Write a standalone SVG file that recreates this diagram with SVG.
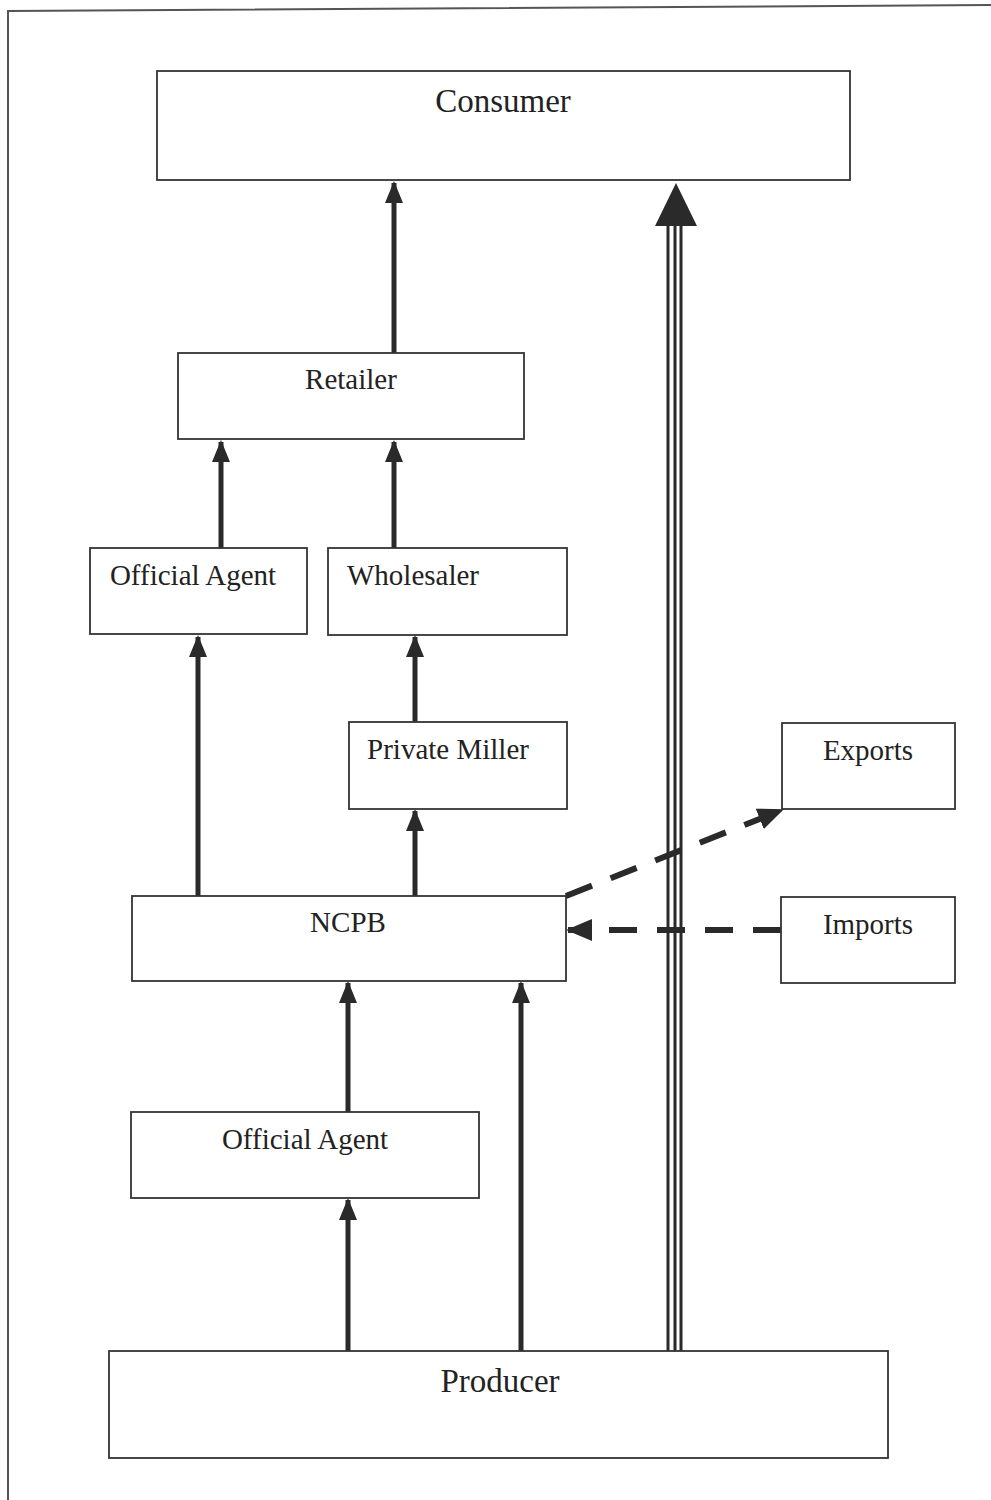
<svg xmlns="http://www.w3.org/2000/svg" width="991" height="1500" viewBox="0 0 991 1500">
<style>
.box{fill:#fff;stroke:#333;stroke-width:1.8}
.t{font-family:"Liberation Serif","Times New Roman",serif;font-size:29px;fill:#222;text-anchor:middle}
.tb{font-size:33px}
.a{stroke:#2a2a2a;stroke-width:5;fill:none;marker-end:url(#ah)}
.d{stroke:#2a2a2a;stroke-width:6;fill:none;stroke-dasharray:28 20;marker-end:url(#dh)}
.tr{stroke:#2a2a2a;stroke-width:3;fill:none}
</style>
<defs>
<marker id="ah" markerUnits="userSpaceOnUse" viewBox="0 0 22 18" refX="20" refY="9" markerWidth="22" markerHeight="18" orient="auto"><path d="M0,0 L22,9 L0,18 Z" fill="#2a2a2a"/></marker>
<marker id="dh" markerUnits="userSpaceOnUse" viewBox="0 0 26 22" refX="24" refY="11" markerWidth="26" markerHeight="22" orient="auto"><path d="M0,0 L26,11 L0,22 Z" fill="#2a2a2a"/></marker>
</defs>
<rect width="991" height="1500" fill="#fff"/>
<path d="M8,1500 L8,11 L991,5" fill="none" stroke="#555" stroke-width="2"/>
<g id="connectors">
<line class="a" x1="394" y1="353" x2="394" y2="183"/>
<line class="a" x1="221" y1="548" x2="221" y2="442"/>
<line class="a" x1="394" y1="548" x2="394" y2="442"/>
<line class="a" x1="198" y1="896" x2="198" y2="637"/>
<line class="a" x1="415" y1="722" x2="415" y2="637"/>
<line class="a" x1="415" y1="896" x2="415" y2="811"/>
<line class="a" x1="348" y1="1112" x2="348" y2="983"/>
<line class="a" x1="521" y1="1351" x2="521" y2="983"/>
<line class="a" x1="348" y1="1351" x2="348" y2="1200"/>
<g id="triple">
<line class="tr" x1="668" y1="1351" x2="668" y2="222"/>
<line class="tr" x1="675" y1="1351" x2="675" y2="222"/>
<line class="tr" x1="681" y1="1351" x2="681" y2="222"/>
<path d="M676,183 L697,226 L655,226 Z" fill="#2a2a2a"/>
</g>
<line class="d" x1="566" y1="896" x2="782" y2="810"/>
<line class="d" x1="781" y1="930" x2="568" y2="930"/>
</g>
<g id="consumer"><rect class="box" x="157" y="71" width="693" height="109"/><text class="t tb" x="503" y="112">Consumer</text></g>
<g id="retailer"><rect class="box" x="178" y="353" width="346" height="86"/><text class="t" x="351" y="389">Retailer</text></g>
<g id="official-agent-top"><rect class="box" x="90" y="548" width="217" height="86"/><text class="t" x="193" y="585">Official Agent</text></g>
<g id="wholesaler"><rect class="box" x="328" y="548" width="239" height="87"/><text class="t" x="413" y="585">Wholesaler</text></g>
<g id="private-miller"><rect class="box" x="349" y="722" width="218" height="87"/><text class="t" x="448" y="759">Private Miller</text></g>
<g id="exports"><rect class="box" x="782" y="723" width="173" height="86"/><text class="t" x="868" y="760">Exports</text></g>
<g id="ncpb"><rect class="box" x="132" y="896" width="434" height="85"/><text class="t" x="348" y="932">NCPB</text></g>
<g id="imports"><rect class="box" x="781" y="897" width="174" height="86"/><text class="t" x="868" y="934">Imports</text></g>
<g id="official-agent-bottom"><rect class="box" x="131" y="1112" width="348" height="86"/><text class="t" x="305" y="1149">Official Agent</text></g>
<g id="producer"><rect class="box" x="109" y="1351" width="779" height="107"/><text class="t tb" x="500" y="1392">Producer</text></g>
</svg>
